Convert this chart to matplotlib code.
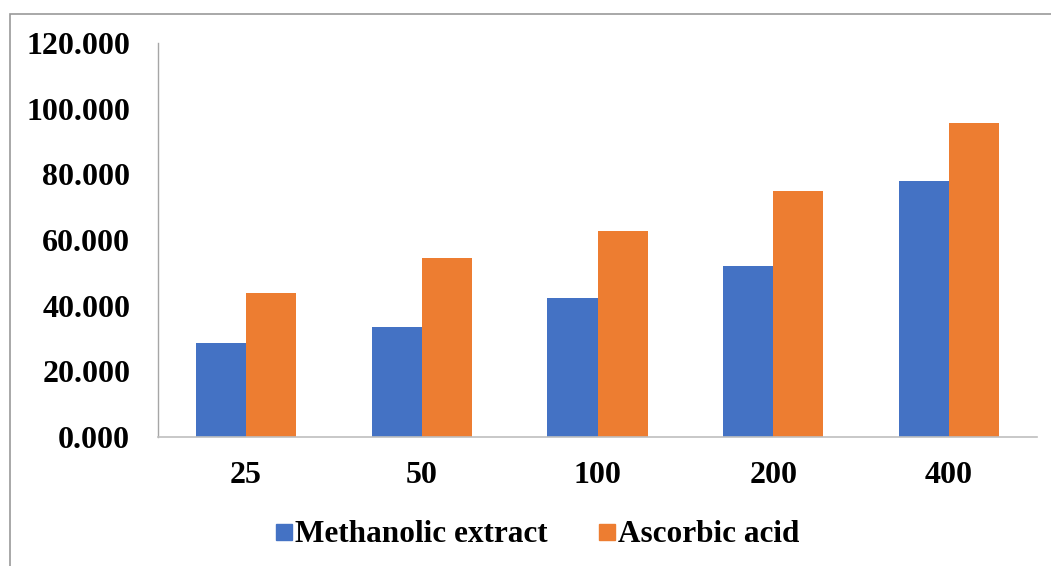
import matplotlib
matplotlib.use("Agg")
import matplotlib.pyplot as plt
import numpy as np
from matplotlib.patches import Rectangle
from matplotlib.lines import Line2D

categories = ["25", "50", "100", "200", "400"]
methanolic = [28.6, 33.5, 42.3, 52.1, 78.0]
ascorbic = [43.9, 54.5, 62.7, 74.9, 95.6]
series_names = ["Methanolic extract", "Ascorbic acid"]
colors = ["#4472C4", "#ED7D31"]

plt.rcParams['font.family'] = ['Liberation Serif', 'DejaVu Serif']
plt.rcParams['font.weight'] = 'bold'

W, H = 1051, 566
fig = plt.figure(figsize=(W / 100, H / 100), dpi=100)
ax = fig.add_axes([158 / W, 1 - 437 / H, (1037 - 158) / W, (437 - 43) / H])

x = np.arange(len(categories))
w = 0.285
ax.bar(x - w / 2, methanolic, w, color=colors[0], label=series_names[0])
ax.bar(x + w / 2, ascorbic, w, color=colors[1], label=series_names[1])

ax.set_xlim(-0.5, len(categories) - 0.5)
ax.set_ylim(0, 120)
ax.set_yticks(np.arange(0, 121, 20))
ax.set_yticklabels([f"{v:.3f}" for v in np.arange(0, 121, 20)])
ax.set_xticks(x)
ax.set_xticklabels(categories)
ax.tick_params(axis='both', length=0, labelsize=23)
ax.tick_params(axis='y', pad=20)
ax.tick_params(axis='x', pad=17)
for lab in ax.get_xticklabels() + ax.get_yticklabels():
    lab.set_fontweight('bold')

for s in ['top', 'right']:
    ax.spines[s].set_visible(False)
ax.spines['left'].set_color('#a6a6a6')
ax.spines['bottom'].set_color('#bfbfbf')
ax.spines['left'].set_linewidth(1.0)
ax.spines['bottom'].set_linewidth(1.2)

handles = [Line2D([], [], marker='s', linestyle='none', markersize=11,
                  markerfacecolor=c, markeredgecolor=c) for c in colors]
fig.legend(handles, series_names, loc='center', bbox_to_anchor=(534 / W, 1 - 535 / H),
           ncol=2, frameon=False, prop={'size': 22.5, 'weight': 'bold'},
           handletextpad=-0.15, columnspacing=1.4, handlelength=1.0)

frame = Rectangle((10 / W, -0.05), 1.2, 1 - 14 / H + 0.05, transform=fig.transFigure,
                  fill=False, edgecolor='#999999', linewidth=1.2)
fig.patches.append(frame)

fig.savefig("out.png", dpi=100)
